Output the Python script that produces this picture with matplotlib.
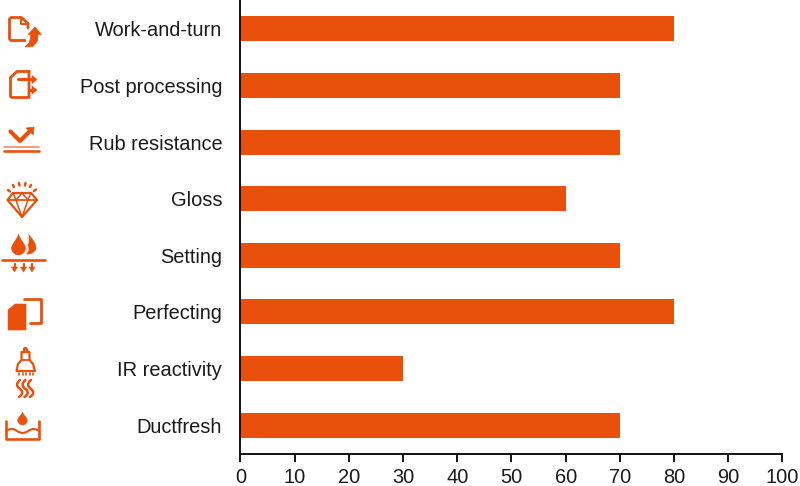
import matplotlib
matplotlib.use("Agg")
import matplotlib.pyplot as plt
from matplotlib.patches import Polygon, PathPatch
from matplotlib.path import Path

categories = ["Work-and-turn", "Post processing", "Rub resistance", "Gloss",
              "Setting", "Perfecting", "IR reactivity", "Ductfresh"]
values = [80, 70, 70, 60, 70, 80, 30, 70]
x_ticks = list(range(0, 101, 10))
ORANGE = "#E8500C"

plt.rcParams["font.family"] = ["Liberation Sans", "DejaVu Sans"]
W, H = 800, 486
fig = plt.figure(figsize=(W / 100, H / 100), dpi=100)
ax = fig.add_axes([240.5 / W, 1 - 453.5 / H, 542 / W, 453 / H])
pos = list(range(len(categories)))
ax.barh(pos, values, height=0.44, color=ORANGE)
ax.set_xlim(0, 100)
ax.set_ylim(len(categories) - 0.5, -0.5)
ax.set_xticks(x_ticks)
ax.set_yticks(pos)
ax.set_yticklabels(categories)
ax.tick_params(axis="y", length=0, pad=13.2, labelsize=14.4, labelcolor="#1a1a1a")
ax.tick_params(axis="x", length=6, width=1.3, pad=4.5, labelsize=14.4, labelcolor="#1a1a1a")
for s in ("top", "right"):
    ax.spines[s].set_visible(False)
for s in ("left", "bottom"):
    ax.spines[s].set_linewidth(1.4)
    ax.spines[s].set_color("#111111")

# icon layer in reference pixel coordinates
ov = fig.add_axes([0, 0, 1, 1], zorder=5)
ov.set_xlim(0, W)
ov.set_ylim(H, 0)
ov.axis("off")
LW = 1.6

def line(pts, lw=LW, color=ORANGE, alpha=1.0):
    xs, ys = zip(*pts)
    ov.plot(xs, ys, color=color, lw=lw, alpha=alpha, solid_capstyle="round", solid_joinstyle="round")

def fill(pts):
    ov.add_patch(Polygon(pts, closed=True, fc=ORANGE, ec=ORANGE, lw=0.4))

def curve(pts, lw=LW, fc="none", ec=ORANGE):
    codes = [Path.MOVETO] + [Path.CURVE3] * (len(pts) - 1)
    ov.add_patch(PathPatch(Path(pts, codes), fc=fc, ec=ec, lw=lw, capstyle="round"))

def drop(cx, top, bottom, r):
    cy = bottom - r
    k = r * 0.56
    verts = [(cx, top), (cx + r * 0.25, top + (cy - top) * 0.45), (cx + r, cy - k), (cx + r, cy),
             (cx + r, cy + k), (cx + k, bottom), (cx, bottom),
             (cx - k, bottom), (cx - r, cy + k), (cx - r, cy),
             (cx - r, cy - k), (cx - r * 0.25, top + (cy - top) * 0.45), (cx, top)]
    codes = [Path.MOVETO] + [Path.CURVE4] * 12
    ov.add_patch(PathPatch(Path(verts, codes), fc=ORANGE, ec=ORANGE, lw=0.3))

# 1 work-and-turn
line([(28, 28), (28, 23.5), (21.5, 17.5), (11, 17.5), (9.5, 19), (9.5, 39), (11, 40.5), (25, 40.5)], 2.0)
line([(21, 18), (21, 24.5), (28, 24.5)], 1.4)
fill([(41.5, 34.5), (35, 27), (28, 34.5), (30.5, 34.5), (30.5, 38), (29, 43), (25, 47),
      (33, 46.5), (37.5, 41), (38, 34.5)])

# 2 post processing
line([(29, 71.5), (17, 71.5), (10.5, 77.5), (10.5, 96.5), (12, 97.5), (29, 97.5), (29, 71.5)], 2.0)
line([(18, 79.5), (33, 79.5)], 2.2)
line([(30, 90), (33, 90)], 2.2)
fill([(32, 75.5), (37, 79.5), (32, 83.5)])
fill([(32, 86), (37, 90), (32, 94)])

# 3 rub resistance
line([(10.5, 131.5), (20, 141), (31, 130)], 3.0)
fill([(26, 128), (34, 127), (33.5, 135)])
line([(3.5, 147), (39, 147)], 1.3, alpha=0.6)
line([(3.5, 151), (39, 151)], 1.9)

# 4 gloss
line([(13, 193), (31, 193), (37, 200), (22, 217), (7.5, 200), (13, 193)], 1.6)
line([(7.5, 200), (37, 200)], 1.3)
line([(16, 200), (22, 217), (28, 200)], 1.1)
line([(13, 193), (16, 200), (22, 193), (28, 200), (31, 193)], 1.1)
for a, b in [((8, 190), (10, 191.5)), ((13, 185), (14, 187)), ((19, 183), (19.5, 185.5)),
             ((25.5, 183), (25, 185.5)), ((31, 185), (30, 187)), ((36, 189.5), (34, 191))]:
    line([a, b], 1.8)

# 5 setting
drop(18.5, 234, 255, 7)
curve([(28, 234), (37, 243), (36, 249), (33, 255), (26, 254)], lw=0.3, fc=ORANGE)
curve([(28, 234), (30, 240), (27.5, 245), (30, 250), (26, 254)], lw=0.3, fc="white", ec="white")
line([(1.5, 259.5), (45, 259.5)], 1.9)
for x in (14.5, 23.5, 32):
    line([(x, 264), (x, 269)], 1.6)
    fill([(x - 3, 267), (x + 3, 267), (x, 272)])

# 6 perfecting
fill([(8, 310), (15, 304), (26, 304), (26, 330), (8, 330)])
line([(23.5, 298.5), (40.5, 298.5), (40.5, 322.5), (30, 322.5)], 2.0)

# 7 IR reactivity
line([(22, 352), (29.5, 352), (29.5, 360), (33, 364), (35, 371), (16.5, 371), (18, 364),
      (21.5, 360), (21.5, 352)], 1.6)
line([(21.5, 359.5), (29.5, 359.5)], 1.3)
line([(24.5, 348.5), (26.5, 348.5), (27, 352)], 1.8)
line([(24.5, 348.5), (24, 352)], 1.8)
for x in (19, 22.5, 26, 29.5, 33):
    line([(x, 372.5), (x, 374.5)], 1.2)
for x in (20, 25.5, 31):
    curve([(x, 380), (x - 6, 385), (x, 389), (x + 5, 393), (x - 1, 397)], lw=1.8)

# 8 ductfresh
drop(22.5, 412, 425, 4.8)
line([(6, 421), (6, 438.5), (39, 438.5), (39, 421)], 1.9)
curve([(6, 431), (12, 427), (17, 431), (23, 435), (28, 431), (34, 427), (39, 431)], lw=1.5)

fig.savefig("out.png", dpi=100)
